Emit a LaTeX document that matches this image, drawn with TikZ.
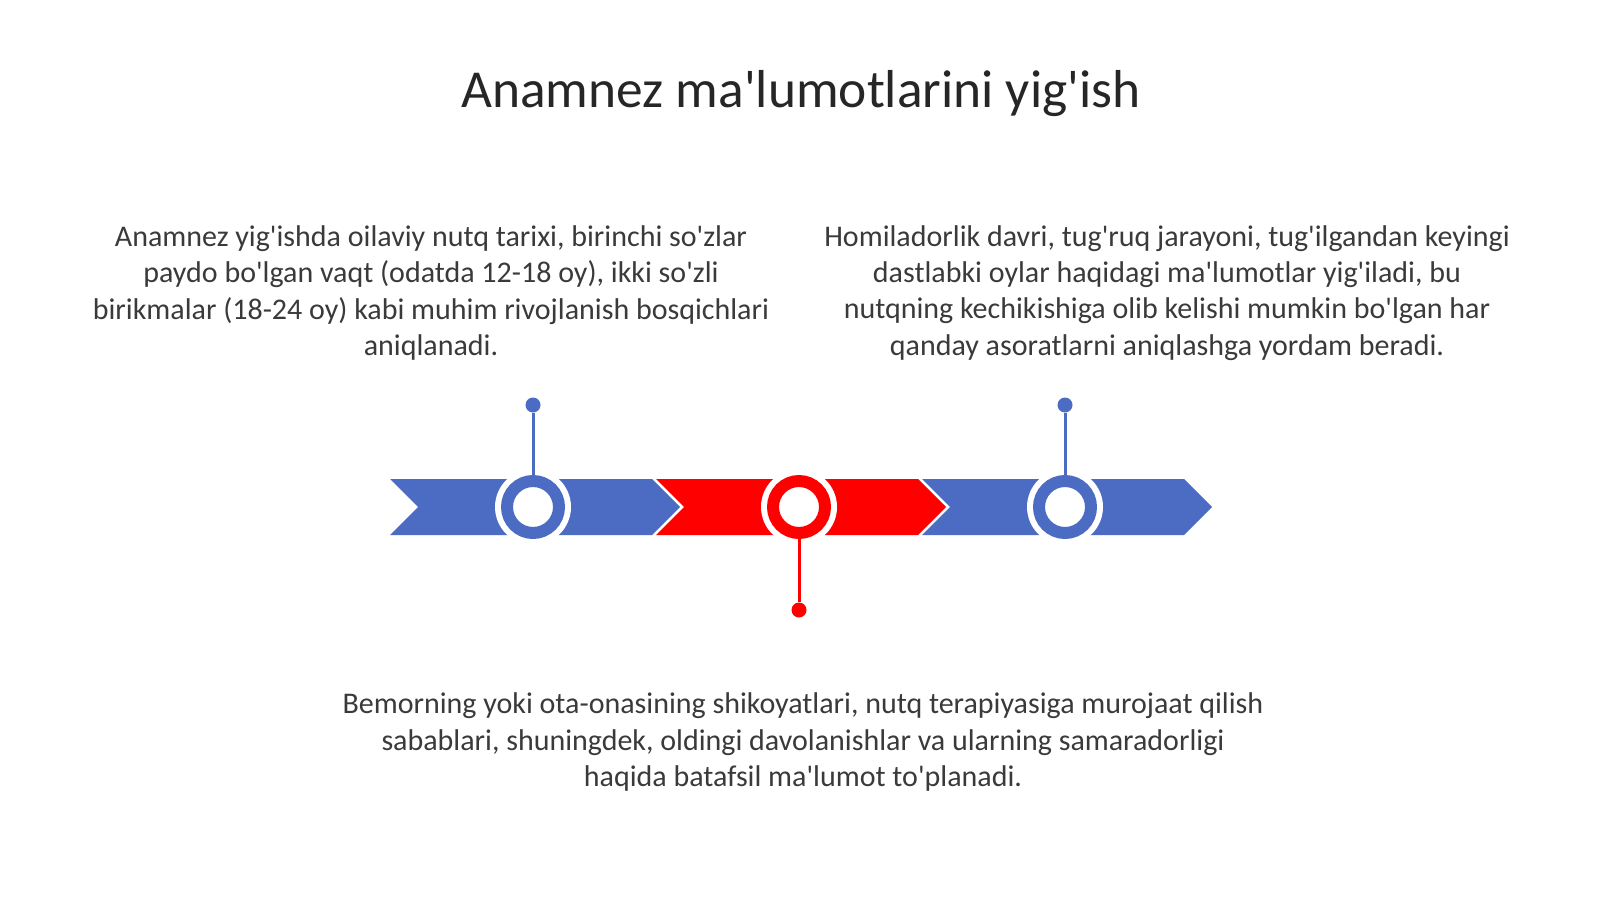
\documentclass[tikz,border=0pt]{standalone}
\usepackage{fontspec}
\setmainfont{Carlito}[Ligatures=TeXOff]
\definecolor{lineblue}{HTML}{4C6BC2}
\definecolor{linered}{HTML}{FF0000}
\definecolor{titlegray}{HTML}{262626}
\definecolor{textgray}{HTML}{3A3A3A}
\begin{document}
\begin{tikzpicture}[x=0.5pt, y=-0.5pt,
	ring/.style={shape=circle, draw=#1, fill=white, line width=6pt, minimum size=26pt, inner sep=0pt},
	dot/.style={shape=circle, fill=#1, minimum size=7.5pt, inner sep=0pt},
	stem/.style={draw=#1, line width=1.5pt},
	info/.style={align=center, text=textgray, font=\fontsize{15}{18.1}\selectfont}]
	
	\useasboundingbox (0,0) rectangle (1600,899);
	
	\node[text=titlegray, font=\fontsize{26.7}{32}\selectfont] (title) at (801,94) {Anamnez ma'lumotlarini yig'ish};
	
	% chevrons
	\foreach \x/\c in {390/lineblue, 656/linered, 922/lineblue}
		\fill[\c] (\x,479) -- ++(262,0) -- ++(28,28) -- ++(-28,28) -- ++(-262,0) -- ++(28,-28) -- cycle;
	
	% rings on the chevrons
	\foreach \n/\x/\c in {c1/533/lineblue, c2/799/linered, c3/1065/lineblue} {
		\fill[white] (\x,507) circle (19pt);
		\node[ring=\c] (\n) at (\x,507) {};
	}
	
	\node[dot=lineblue] (d1) at (533,405) {};
	\node[dot=linered] (d2) at (799,610) {};
	\node[dot=lineblue] (d3) at (1065,405) {};
	
	\draw[stem=lineblue] (c1) -- (d1);
	\draw[stem=linered] (c2) -- (d2);
	\draw[stem=lineblue] (c3) -- (d3);
	
	\node[info] (left) at (431,293) {Anamnez yig'ishda oilaviy nutq tarixi, birinchi so'zlar\\
		paydo bo'lgan vaqt (odatda 12-18 oy), ikki so'zli\\
		birikmalar (18-24 oy) kabi muhim rivojlanish bosqichlari\\
		aniqlanadi.};
	\node[info] (right) at (1167,293) {Homiladorlik davri, tug'ruq jarayoni, tug'ilgandan keyingi\\
		dastlabki oylar haqidagi ma'lumotlar yig'iladi, bu\\
		nutqning kechikishiga olib kelishi mumkin bo'lgan har\\
		qanday asoratlarni aniqlashga yordam beradi.};
	\node[info] (bottom) at (803,742) {Bemorning yoki ota-onasining shikoyatlari, nutq terapiyasiga murojaat qilish\\
		sabablari, shuningdek, oldingi davolanishlar va ularning samaradorligi\\
		haqida batafsil ma'lumot to'planadi.};
\end{tikzpicture}
\end{document}
